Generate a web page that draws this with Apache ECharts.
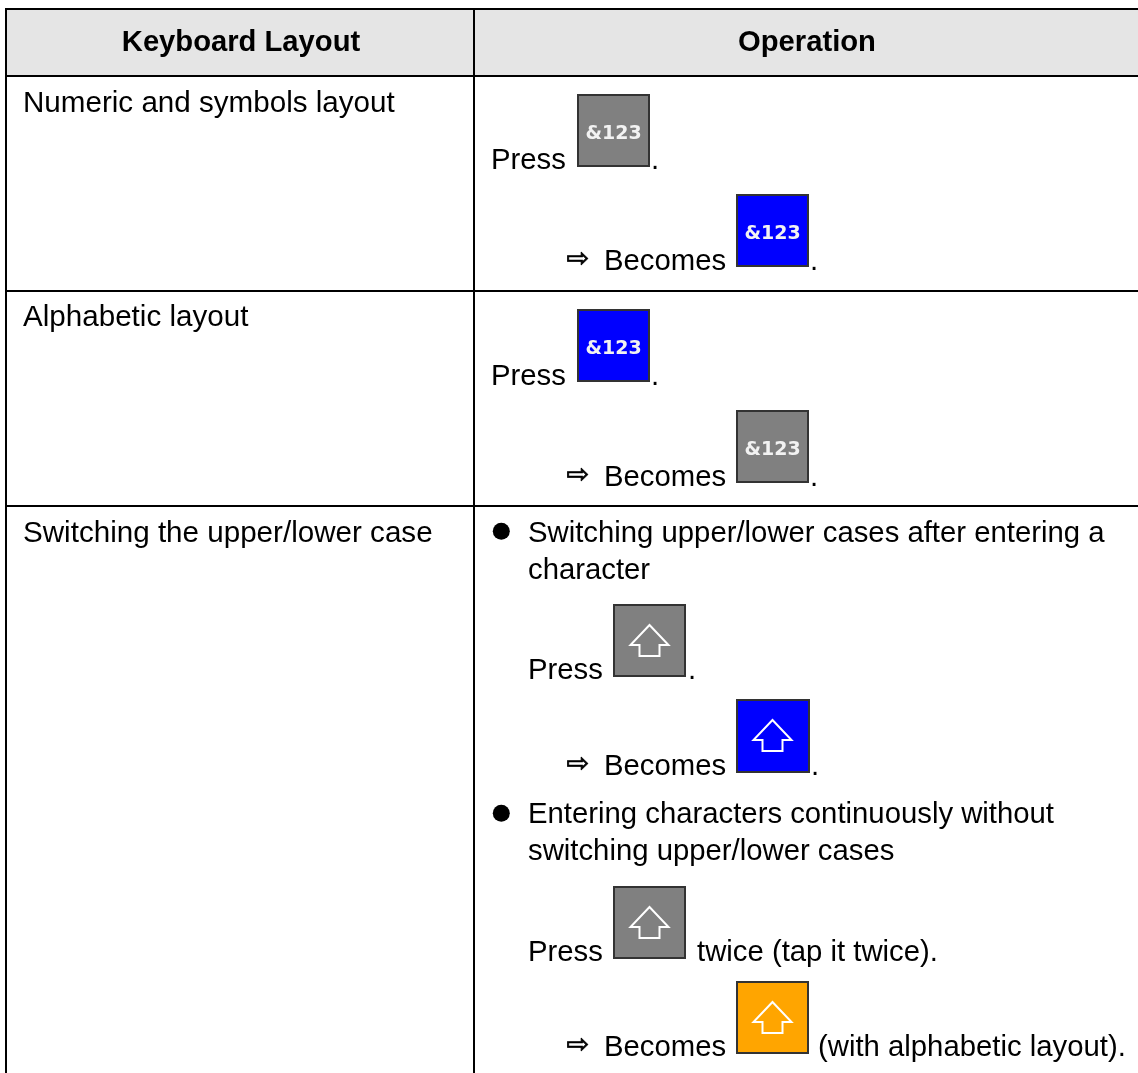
<!DOCTYPE html>
<html>
<head>
<meta charset="utf-8">
<style>
html, body { margin: 0; padding: 0; background: #fff; }
#main { width: 1138px; height: 1073px; }
</style>
<script src="https://cdn.jsdelivr.net/npm/echarts@6/dist/echarts.min.js"></script>
</head>
<body>
<div id="main"></div>
<script>
// table content
var headers = ['Keyboard Layout', 'Operation'];
var layoutNames = ['Numeric and symbols layout', 'Alphabetic layout', 'Switching the upper/lower case'];
var keyLabel = '&123';
var pressWord = 'Press';
var becomesWord = 'Becomes';
var arrowGlyph = '\u21E8';
var caseNotes = [
    'Switching upper/lower cases after entering a',
    'character',
    'Entering characters continuously without',
    'switching upper/lower cases'
];
var twiceNote = 'twice (tap it twice).';
var withLayoutNote = '(with alphabetic layout).';

var FONT = '29.3px "Liberation Sans", Arial, sans-serif';
var LEFT_FONT = '29.6px "Liberation Sans", Arial, sans-serif';
var BOLD = 'bold 29.2px "Liberation Sans", Arial, sans-serif';
var KEY_FONT = 'bold 19px "DejaVu Sans", sans-serif';
var ARROW_FONT = '27px "DejaVu Sans", sans-serif';
var GRAY = '#808080', BLUE = '#0000ff', ORANGE = '#ffa500';

var elements = [];

function rect(x, y, w, h, fill) {
    elements.push({ type: 'rect', shape: { x: x, y: y, width: w, height: h }, style: { fill: fill } });
}
function label(str, x, y, font, align) {
    elements.push({
        type: 'text', x: x, y: y + 1,
        style: { text: str, font: font || FONT, fill: '#000', align: align || 'left', verticalAlign: 'middle' }
    });
}
function arrowLabel(y) {
    elements.push({
        type: 'text', x: 566.5, y: y,
        style: { text: arrowGlyph, font: ARROW_FONT, fill: '#000', stroke: '#000', lineWidth: 0.8, align: 'left', verticalAlign: 'middle' }
    });
}
function key(x, y, w, h, fill, arrow) {
    elements.push({
        type: 'rect', shape: { x: x + 1, y: y + 1, width: w - 2, height: h - 2 },
        style: { fill: fill, stroke: '#333', lineWidth: 2 }
    });
    if (arrow) {
        var cx = x + 36.5, cy = y + 21;
        var pts = [[0, 0], [19, 20], [10, 20], [10, 31], [-10, 31], [-10, 20], [-19, 20]].map(function (p) {
            return [cx + p[0], cy + p[1]];
        });
        elements.push({
            type: 'polygon', shape: { points: pts },
            style: { fill: 'none', stroke: '#fff', lineWidth: 2 }
        });
    } else {
        elements.push({
            type: 'text', x: x + w / 2, y: y + h / 2 + 4,
            style: { text: keyLabel, font: KEY_FONT, fill: '#f2f2f2', align: 'center', verticalAlign: 'middle' }
        });
    }
}

// header band and grid
rect(7, 10, 1131, 65, '#e5e5e5');
rect(5, 8, 1133, 2, '#000');
rect(5, 8, 2, 1065, '#000');
rect(473, 8, 2, 1065, '#000');
rect(5, 75, 1133, 2, '#000');
rect(5, 290, 1133, 2, '#000');
rect(5, 505, 1133, 2, '#000');

label(headers[0], 241, 42, BOLD, 'center');
label(headers[1], 807, 42, BOLD, 'center');

label(layoutNames[0], 23, 103, LEFT_FONT);
label(layoutNames[1], 23, 317, LEFT_FONT);
label(layoutNames[2], 23, 533, LEFT_FONT);

// row 1
label(pressWord, 491, 160);
key(577, 94, 73, 73, GRAY);
label('.', 651, 160);
arrowLabel(260);
label(becomesWord, 604, 261);
key(736, 194, 73, 73, BLUE);
label('.', 810, 261);

// row 2
label(pressWord, 491, 376);
key(577, 309, 73, 73, BLUE);
label('.', 651, 376);
arrowLabel(476);
label(becomesWord, 604, 477);
key(736, 410, 73, 73, GRAY);
label('.', 810, 477);

// row 3
elements.push({ type: 'circle', shape: { cx: 501.3, cy: 531.3, r: 8.5 }, style: { fill: '#000' } });
label(caseNotes[0], 528, 533);
label(caseNotes[1], 528, 570);
label(pressWord, 528, 670);
key(613, 604, 73, 73, GRAY, true);
label('.', 688, 670);
arrowLabel(765);
label(becomesWord, 604, 766);
key(736, 699, 74, 74, BLUE, true);
label('.', 811, 766);

elements.push({ type: 'circle', shape: { cx: 501.3, cy: 813.3, r: 8.5 }, style: { fill: '#000' } });
label(caseNotes[2], 528, 814);
label(caseNotes[3], 528, 851);
label(pressWord, 528, 952);
key(613, 886, 73, 73, GRAY, true);
label(twiceNote, 697, 952);
arrowLabel(1046);
label(becomesWord, 604, 1047);
key(736, 981, 73, 73, ORANGE, true);
label(withLayoutNote, 818, 1047);

var myChart = echarts.init(document.getElementById('main'), null, { renderer: 'canvas' });
myChart.setOption({
    animation: false,
    backgroundColor: '#fff',
    graphic: { elements: elements }
});
</script>
</body>
</html>
